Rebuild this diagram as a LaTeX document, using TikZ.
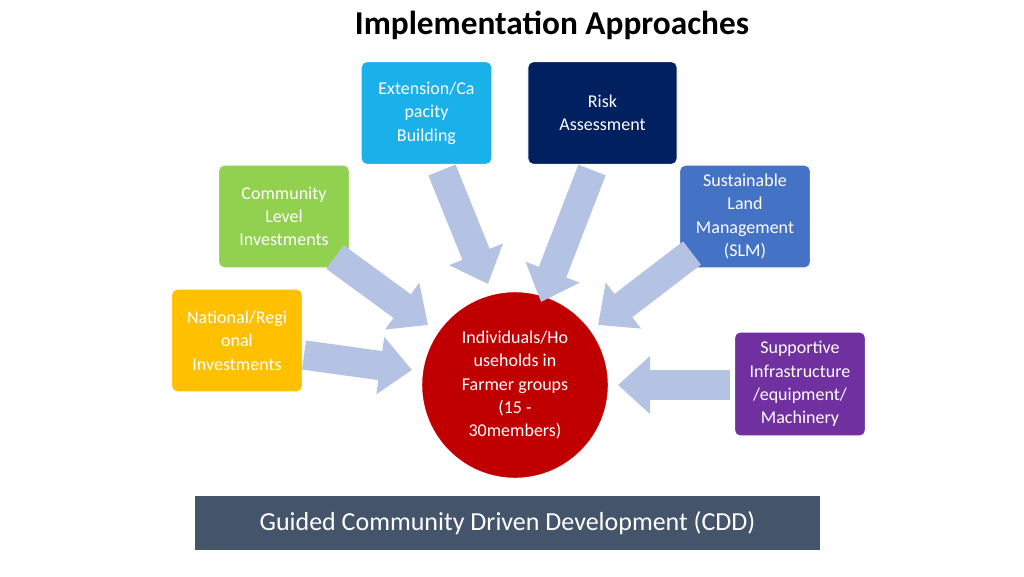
\documentclass[tikz,border=0pt]{standalone}
\usepackage{fontspec}
\setmainfont{Carlito}
\usetikzlibrary{arrows.meta}
\definecolor{arr}{HTML}{B4C3E3}
\tikzset{
 box/.style={rounded corners=4pt,draw=white,line width=0.8pt,text=white,align=center,font=\fontsize{13.5}{17.5}\selectfont,inner sep=0pt},
 bigarrow/.style={arr,line width=22pt,-{Triangle[width=42pt,length=24pt]}}
}
\begin{document}
\begin{tikzpicture}[x=0.75pt,y=-0.75pt]
\useasboundingbox (0,0) rectangle (1024,576);
\node[font=\bfseries\fontsize{25}{30}\selectfont] (title) at (552,25) {Implementation Approaches};
\node[box,fill={rgb,255:red,26;green,176;blue,234},minimum width=98pt,minimum height=77pt] (ext) at (426.5,113) {Extension/Ca\\pacity\\Building};
\node[box,fill={rgb,255:red,0;green,32;blue,96},minimum width=112pt,minimum height=77pt] (risk) at (602.5,113) {Risk\\Assessment};
\node[box,fill={rgb,255:red,146;green,208;blue,80},minimum width=98pt,minimum height=77pt] (comm) at (284,216.5) {Community\\Level\\Investments};
\node[box,fill={rgb,255:red,68;green,114;blue,196},minimum width=98pt,minimum height=77pt] (slm) at (745,216.5) {Sustainable\\Land\\Management\\(SLM)};
\node[box,fill={rgb,255:red,255;green,192;blue,0},minimum width=98pt,minimum height=77pt] (nat) at (237,340.5) {National/Regi\\onal\\Investments};
\node[box,fill={rgb,255:red,112;green,48;blue,160},minimum width=98pt,minimum height=78pt] (sup) at (800,384) {Supportive\\Infrastructure\\/equipment/\\Machinery};
\node[circle,fill={rgb,255:red,192;green,0;blue,0},draw=white,line width=0.8pt,minimum size=140pt,text=white,align=center,font=\fontsize{13.5}{17.5}\selectfont,inner sep=0pt] (c) at (515,385) {Individuals/Ho\\useholds in\\Farmer groups\\(15 -\\30members)};
\node[fill={rgb,255:red,68;green,84;blue,106},minimum width=469pt,minimum height=40pt,text=white,font=\fontsize{19.5}{24}\selectfont] (cdd) at (507.5,523) {Guided Community Driven Development (CDD)};
\coordinate (e1) at (442,170); \coordinate (e2) at (488,284);
\coordinate (r1) at (592,170); \coordinate (r2) at (541,302);
\coordinate (c1) at (335,257); \coordinate (c2) at (428,325);
\coordinate (s1) at (692,253); \coordinate (s2) at (598,325);
\coordinate (n1) at (304,355); \coordinate (n2) at (412,370);
\coordinate (p1) at (730,385); \coordinate (p2) at (618,385);
\draw[bigarrow] (e1) -- (e2);
\draw[bigarrow] (r1) -- (r2);
\draw[bigarrow] (c1) -- (c2);
\draw[bigarrow] (s1) -- (s2);
\draw[bigarrow] (n1) -- (n2);
\draw[bigarrow] (p1) -- (p2);
\end{tikzpicture}
\end{document}
